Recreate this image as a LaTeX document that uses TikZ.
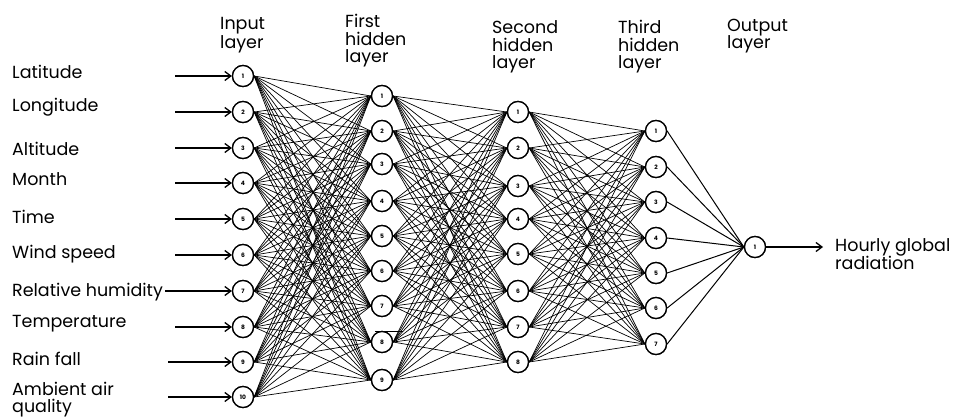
\documentclass[tikz,border=0pt]{standalone}
\usepackage{fontspec}
\setmainfont{Poppins}
\usetikzlibrary{arrows.meta}
\tikzset{
  neuron/.style={circle, draw=black, line width=1.3pt, fill=white, minimum size=21pt, inner sep=0pt, font=\fontsize{6}{6}\selectfont\bfseries},
  link/.style={line width=0.7pt, black},
  feed/.style={line width=1.3pt, -{Straight Barb[length=6pt,width=9pt]}},
  txt/.style={anchor=base west, inner sep=0pt, font=\fontsize{17.5}{18}\selectfont},
}
\begin{document}
\begin{tikzpicture}[x=1pt, y=-1pt]
\useasboundingbox (0,0) rectangle (963,418);

% layer headings, one node per line
\node[txt] (hin1) at (220,29) {Input};
\node[txt] (hin2) at (220,48) {layer};
\node[txt] (hfa1) at (345,27) {First};
\node[txt] (hfa2) at (345,45) {hidden};
\node[txt] (hfa3) at (345,62) {layer};
\node[txt] (hsa1) at (492,33) {Second};
\node[txt] (hsa2) at (492,51) {hidden};
\node[txt] (hsa3) at (492,68) {layer};
\node[txt] (hta1) at (618,33) {Third};
\node[txt] (hta2) at (618,51) {hidden};
\node[txt] (hta3) at (618,68) {layer};
\node[txt] (hou1) at (727,31) {Output};
\node[txt] (hou2) at (727,48) {layer};

% input layer (10 nodes)
\foreach \i/\y in {1/76,2/112,3/148,4/183,5/219,6/255,7/291,8/327,9/362,10/397}
  \node[neuron] (a\i) at (243,\y) {\i};
% first hidden layer (9 nodes)
\foreach \i/\y in {1/96,2/131,3/164,4/201,5/236,6/271,7/306,8/342,9/380}
  \node[neuron] (b\i) at (382,\y) {\i};
% second hidden layer (8 nodes)
\foreach \i/\y in {1/112,2/148,3/186,4/219,5/254,6/291,7/327,8/362}
  \node[neuron] (c\i) at (518,\y) {\i};
% third hidden layer (7 nodes)
\foreach \i/\y in {1/131,2/167,3/202,4/238,5/273,6/308,7/344}
  \node[neuron] (d\i) at (656,\y) {\i};
% output layer
\node[neuron] (o1) at (755,247) {1};

% full connections between consecutive layers
\foreach \i in {1,...,10}
  \foreach \j in {1,...,9}
    \draw[link] (a\i.east) -- (b\j.west);
\foreach \i in {1,...,9}
  \foreach \j in {1,...,8}
    \draw[link] (b\i.east) -- (c\j.west);
\foreach \i in {1,...,8}
  \foreach \j in {1,...,7}
    \draw[link] (c\i.east) -- (d\j.west);
\foreach \j in {1,...,7}
  \draw[link, line width=1pt] (d\j.east) -- (o1.west);

% redraw circles above the links
\foreach \i/\y in {1/76,2/112,3/148,4/183,5/219,6/255,7/291,8/327,9/362,10/397}
  \node[neuron] at (243,\y) {\i};
\foreach \i/\y in {1/96,2/131,3/164,4/201,5/236,6/271,7/306,8/342,9/380}
  \node[neuron] at (382,\y) {\i};
\foreach \i/\y in {1/112,2/148,3/186,4/219,5/254,6/291,7/327,8/362}
  \node[neuron] at (518,\y) {\i};
\foreach \i/\y in {1/131,2/167,3/202,4/238,5/273,6/308,7/344}
  \node[neuron] at (656,\y) {\i};
\node[neuron] at (755,247) {1};

% stray stroke near the eighth node of the first hidden layer
\coordinate (s1) at (375,331);
\coordinate (s2) at (403,331);
\draw[line width=0.9pt] (s1) -- (s2);

% input features
\node[txt] (f1)  at (12,78)  {Latitude};
\node[txt] (f2)  at (12,111) {Longitude};
\node[txt] (f3)  at (12,155) {Altitude};
\node[txt] (f4)  at (12,185) {Month};
\node[txt] (f5)  at (12,223) {Time};
\node[txt] (f6)  at (12,258) {Wind speed};
\node[txt] (f7)  at (12,296) {Relative humidity};
\node[txt] (f8)  at (12,327) {Temperature};
\node[txt] (f9)  at (12,365) {Rain fall};
\node[txt] (f10) at (12,395) {Ambient air};
\node[txt] (f11) at (12,412) {quality};

% feed arrows into the input layer
\foreach \i in {1,2,3,4,5,6,8}
  \draw[feed] (175,0 |- a\i.west) -- (a\i.west);
\draw[feed] (f7.east |- a7.west) ++(2pt,0) -- (a7.west);
\draw[feed] (168,0 |- a9.west) -- (a9.west);
\draw[feed] (168,0 |- a10.west) -- (a10.west);

% output
\node[txt] (r1) at (835,251) {Hourly global};
\node[txt] (r2) at (835,269) {radiation};
\coordinate (oe) at (823,247);
\draw[feed] (o1.east) -- (oe);
\end{tikzpicture}
\end{document}
